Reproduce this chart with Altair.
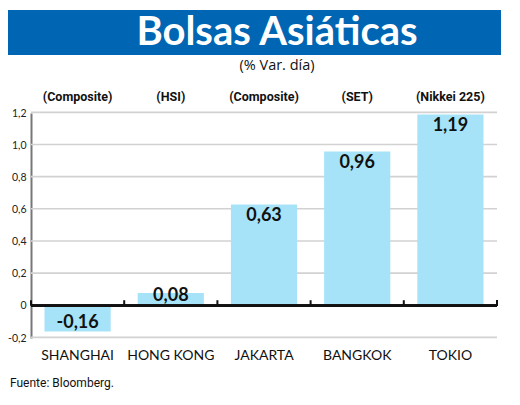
import altair as alt
import pandas as pd

mercados = ["SHANGHAI", "HONG KONG", "JAKARTA", "BANGKOK", "TOKIO"]
indices = ["(Composite)", "(HSI)", "(Composite)", "(SET)", "(Nikkei 225)"]
variacion = [-0.16, 0.08, 0.63, 0.96, 1.19]
y_ticks = [-0.2, 0, 0.2, 0.4, 0.6, 0.8, 1.0, 1.2]

df = pd.DataFrame({"mercado": mercados, "indice": indices, "var": variacion})
df_grid = pd.DataFrame({"nivel": y_ticks})
df_uno = pd.DataFrame({"k": [0]})

W, H = 466, 225
AZUL = "#0066b3"
CELESTE = "#a6e3f8"
GRIS = "#d2d2d2"
y_scale = alt.Scale(domain=[-0.2, 1.2], nice=False)
y_axis = alt.Axis(values=y_ticks, ticks=False, domainColor="#777", domainWidth=2,
                  grid=False, labelPadding=5,
                  labelOverlap=False, labelFont="Lato", labelFontSize=10.5,
                  labelColor="#222",
                  labelExpr="datum.value == 0 ? '0' : replace(replace(format(datum.value, '.1f'), '.', ','), '\u2212', '-')")

x_enc = alt.X("mercado:N", sort=mercados, title=None,
              scale=alt.Scale(paddingInner=0.29, paddingOuter=0.145),
              axis=alt.Axis(labelAngle=0, domain=False, ticks=False, labelPadding=10,
                            labelFont="Lato", labelFontSize=14, labelColor="#111"))


def eje_y(campo):
    return alt.Y(campo, title=None, scale=y_scale, axis=y_axis)


base = alt.Chart(df).transform_calculate(
    cero="0", tope="0.035",
    lbl="replace(replace(format(datum.var, '.2f'), '.', ','), '\u2212', '-')",
    ly="datum.var < 0 ? datum.var + 0.056 : max(datum.var - 0.07, 0.06)")
unico = alt.Chart(df_uno)

# lineas de la rejilla como franjas finas
rejilla = alt.Chart(df_grid).transform_calculate(
    arriba="datum.nivel + 0.009", abajo="datum.nivel - 0.001"
).mark_rect(color=GRIS).encode(
    x=alt.value(0), x2=alt.value(W), y=eje_y("abajo:Q"), y2="arriba:Q")

bars = base.mark_bar(color=CELESTE).encode(x=x_enc, y=eje_y("var:Q"))

etiquetas = base.mark_text(font="Lato", fontWeight="bold", fontSize=18, color="#111",
                           baseline="middle").encode(
    x=alt.X("mercado:N", sort=mercados), y=eje_y("ly:Q"), text="lbl:N")

cabeceras = base.mark_text(font="Roboto", fontWeight="bold", fontSize=12.5, color="#111",
                           baseline="middle").encode(
    x=alt.X("mercado:N", sort=mercados), y=alt.value(-16), text="indice:N")

linea_cero = base.mark_rule(color="#111", strokeWidth=2.5).encode(y=eje_y("cero:Q"))

banda = unico.mark_rect(color=AZUL).encode(
    x=alt.value(-24), x2=alt.value(470), y=alt.value(-103), y2=alt.value(-58))
titulo = unico.mark_text(text="Bolsas Asiáticas", font="Lato", fontWeight="bold", fontSize=40,
                         color="white", align="center", baseline="alphabetic").encode(
    x=alt.value(246), y=alt.value(-68))
subtitulo = unico.mark_text(text="(% Var. día)", font="Open Sans", fontWeight="normal",
                            fontSize=14.5, color="#111", align="center",
                            baseline="middle").encode(
    x=alt.value(246), y=alt.value(-47))
fuente = unico.mark_text(text="Fuente: Bloomberg.", font="Roboto", fontSize=12,
                         color="#111", align="left", baseline="middle").encode(
    x=alt.value(-21), y=alt.value(270))

marcas = base.mark_rule(color="#111", strokeWidth=2).encode(
    x=alt.X("mercado:N", sort=mercados, bandPosition=0, axis=None,
            scale=alt.Scale(paddingInner=0, paddingOuter=0)),
    y=eje_y("cero:Q"), y2="tope:Q")
marca_fin = base.mark_rule(color="#111", strokeWidth=2).encode(
    x=alt.value(W), y=eje_y("cero:Q"), y2="tope:Q")

principal = alt.layer(rejilla, bars, linea_cero, etiquetas, cabeceras, banda, titulo,
                      subtitulo, fuente)
divisiones = alt.layer(marcas, marca_fin)

chart = alt.layer(principal, divisiones).resolve_scale(x="independent").properties(
    width=W, height=H, background="white",
    autosize=alt.AutoSizeParams(type="none"),
    padding={"left": 23, "top": 105, "right": 15, "bottom": 60},
).configure_view(stroke=None)

chart.save("out.html", embed_options={"renderer": "svg", "actions": False})
